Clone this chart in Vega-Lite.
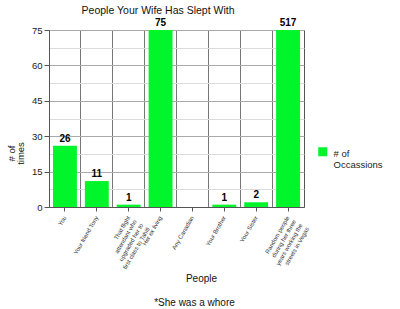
{
  "$schema": "https://vega.github.io/schema/vega-lite/v6.json",
  "padding": 5,
  "background": "white",
  "config": {"font": "Liberation Sans", "view": {"stroke": "#555", "strokeWidth": 1}},
  "title": {"text": "*She was a whore", "orient": "bottom", "anchor": "middle", "frame": "bounds", "fontSize": 10, "fontWeight": "normal", "color": "#111", "offset": 14},
  "vconcat": [
    {
      "width": 255,
      "height": 177,
      "title": {"text": "People Your Wife Has Slept With", "anchor": "middle", "frame": "bounds", "fontSize": 10.5, "fontWeight": "normal", "color": "#111", "offset": 2},
      "data": {"values": [
        {"person": "You", "times": 26},
        {"person": "Your friend Tony", "times": 11},
        {"person": "That flight|attendant who|upgraded her to|first class to Tahiti", "times": 1},
        {"person": "Her ex living", "times": 75},
        {"person": "Any Canadian", "times": 0},
        {"person": "Your Brother", "times": 1},
        {"person": "Your Sister", "times": 2},
        {"person": "Random people|during her three|years working the|streets in Vegas", "times": 517}
      ]},
      "encoding": {
        "y": {"field": "times", "type": "quantitative",
          "scale": {"domain": [0, 75], "nice": false, "clamp": true},
          "axis": {"values": [0, 7.5, 15, 22.5, 30, 37.5, 45, 52.5, 60, 67.5, 75],
            "labelExpr": "datum.value % 15 === 0 ? datum.label : ''",
            "labelOverlap": false,
            "labelFontSize": 9.5, "labelColor": "#222", "labelPadding": 2,
            "tickSize": 5, "tickColor": "#555",
            "tickOpacity": {"condition": {"test": "datum.value % 15 === 0", "value": 1}, "value": 0},
            "domainColor": "#555",
            "gridColor": {"condition": {"test": "datum.value % 15 === 0", "value": "#aaa"}, "value": "#dcdcdc"},
            "title": ["# of", "times"], "titleY": 123, "titleLineHeight": 9,
            "titleFontSize": 9.5, "titleFontWeight": "normal", "titleColor": "#111", "titlePadding": 6}}
      },
      "layer": [
        {
          "mark": {"type": "bar", "width": {"band": 0.75}},
          "encoding": {
            "x": {"field": "person", "type": "nominal", "sort": null,
              "scale": {"paddingInner": 0, "paddingOuter": 0},
              "axis": {"title": "People", "titleFontSize": 10, "titleFontWeight": "normal", "titleColor": "#111",
                "titleY": 66, "titleX": 152, "titleBaseline": "top",
                "labelExpr": "split(datum.value, '|')", "labelAngle": -60, "labelAlign": "right", "labelBaseline": "middle",
                "labelFontSize": 6, "labelColor": "#333", "labelPadding": 5, "labelLineHeight": 7.5,
                "tickSize": 4, "tickColor": "#555", "domainColor": "#555", "grid": false}},
            "color": {"datum": "# of Occassions", "type": "nominal",
              "scale": {"range": ["#00f52b"]},
              "legend": {"title": null, "orient": "none", "legendX": 269, "legendY": 114,
                "symbolType": "M-1,-0.33H1V1.67H-1Z", "symbolSize": 81, "symbolStrokeWidth": 0, "symbolOpacity": 1,
                "labelExpr": "['# of', 'Occassions']", "labelFontSize": 9.5, "labelColor": "#222",
                "labelBaseline": "top", "labelOffset": 6}}
          }
        },
        {
          "transform": [{"filter": "datum.times > 0"}],
          "mark": {"type": "text", "dy": -7, "fontWeight": "bold", "fontSize": 10, "color": "#000"},
          "encoding": {
            "x": {"field": "person", "type": "nominal", "sort": null,
              "axis": {"orient": "top", "bandPosition": 0, "grid": true, "gridColor": "#777", "labels": false, "ticks": false, "domain": false, "title": null}},
            "text": {"field": "times", "type": "quantitative"}
          }
        }
      ],
      "resolve": {"axis": {"x": "independent"}}
    }
  ]
}
